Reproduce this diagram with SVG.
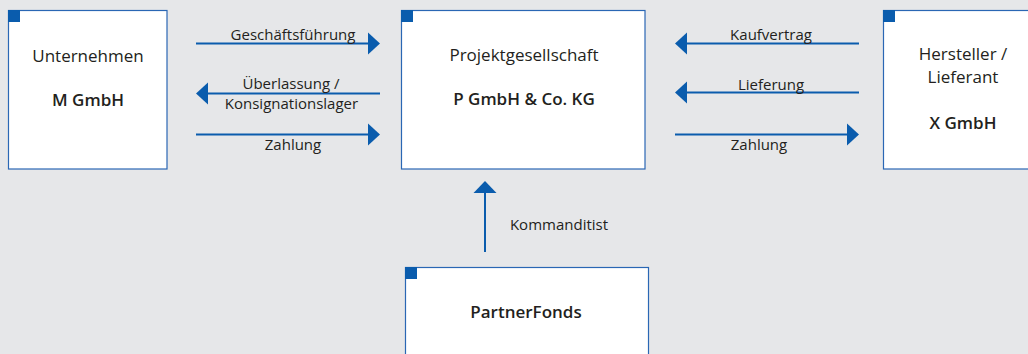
<svg xmlns="http://www.w3.org/2000/svg" width="1028" height="354" viewBox="0 0 1028 354">
<defs>
<style>
.box{fill:#fff;stroke:#2a67b4;stroke-width:1.2}
.tag{fill:#0a5cad}
.t{font-family:"Open Sans","Liberation Sans",sans-serif;fill:#231f20;text-anchor:middle}
.title{font-size:17px}
.bold{font-size:17px;font-weight:600}
.lbl{font-size:15px}
.ln{stroke:#0a5cad;stroke-width:2;fill:none}
.hd{fill:#0a5cad}
</style>
</defs>
<rect width="1028" height="354" fill="#e6e7e9"/>
<g id="node-m">
<rect class="box" x="8.5" y="10.5" width="158.5" height="158.5"/>
<rect class="tag" x="8" y="10" width="12" height="12"/>
<text class="t title" x="88" y="61.5">Unternehmen</text>
<text class="t bold" x="88" y="106">M GmbH</text>
</g>
<g id="node-p">
<rect class="box" x="401.5" y="10.5" width="243.5" height="158.5"/>
<rect class="tag" x="401" y="10" width="12" height="12"/>
<text class="t title" x="524" y="61">Projektgesellschaft</text>
<text class="t bold" x="524" y="105">P GmbH &amp; Co. KG</text>
</g>
<g id="node-x">
<rect class="box" x="883.5" y="10.5" width="160" height="158.5"/>
<rect class="tag" x="883" y="10" width="12" height="12"/>
<text class="t title" x="963" y="60">Hersteller /</text>
<text class="t title" x="963" y="82.5">Lieferant</text>
<text class="t bold" x="963" y="128.5">X GmbH</text>
</g>
<g id="node-partner">
<rect class="box" x="405.5" y="267.5" width="243" height="100"/>
<rect class="tag" x="405" y="267" width="12" height="12"/>
<text class="t bold" x="526" y="318">PartnerFonds</text>
</g>
<g id="connectors">
<line class="ln" x1="196" y1="43.5" x2="369" y2="43.5"/>
<polygon class="hd" points="368,32.5 380,43.5 368,54.5"/>
<text class="t lbl" x="293" y="39.5">Geschäftsführung</text>
<line class="ln" x1="207" y1="93.5" x2="380" y2="93.5"/>
<polygon class="hd" points="208,82.5 196,93.5 208,104.5"/>
<text class="t lbl" x="291" y="88.5">Überlassung /</text>
<text class="t lbl" x="291.5" y="109">Konsignationslager</text>
<line class="ln" x1="196" y1="134.5" x2="369" y2="134.5"/>
<polygon class="hd" points="368,123.5 380,134.5 368,145.5"/>
<text class="t lbl" x="293" y="150">Zahlung</text>
<line class="ln" x1="686" y1="43.5" x2="859" y2="43.5"/>
<polygon class="hd" points="687,32.5 675,43.5 687,54.5"/>
<text class="t lbl" x="771" y="40">Kaufvertrag</text>
<line class="ln" x1="686" y1="92.5" x2="859" y2="92.5"/>
<polygon class="hd" points="687,81.5 675,92.5 687,103.5"/>
<text class="t lbl" x="771" y="89.5">Lieferung</text>
<line class="ln" x1="675" y1="134.5" x2="848" y2="134.5"/>
<polygon class="hd" points="847,123.5 859,134.5 847,145.5"/>
<text class="t lbl" x="759" y="150">Zahlung</text>
<line class="ln" x1="485" y1="192" x2="485" y2="252"/>
<polygon class="hd" points="473.5,193 485,181 496.5,193"/>
<text class="t lbl" x="559" y="230">Kommanditist</text>
</g>
</svg>
